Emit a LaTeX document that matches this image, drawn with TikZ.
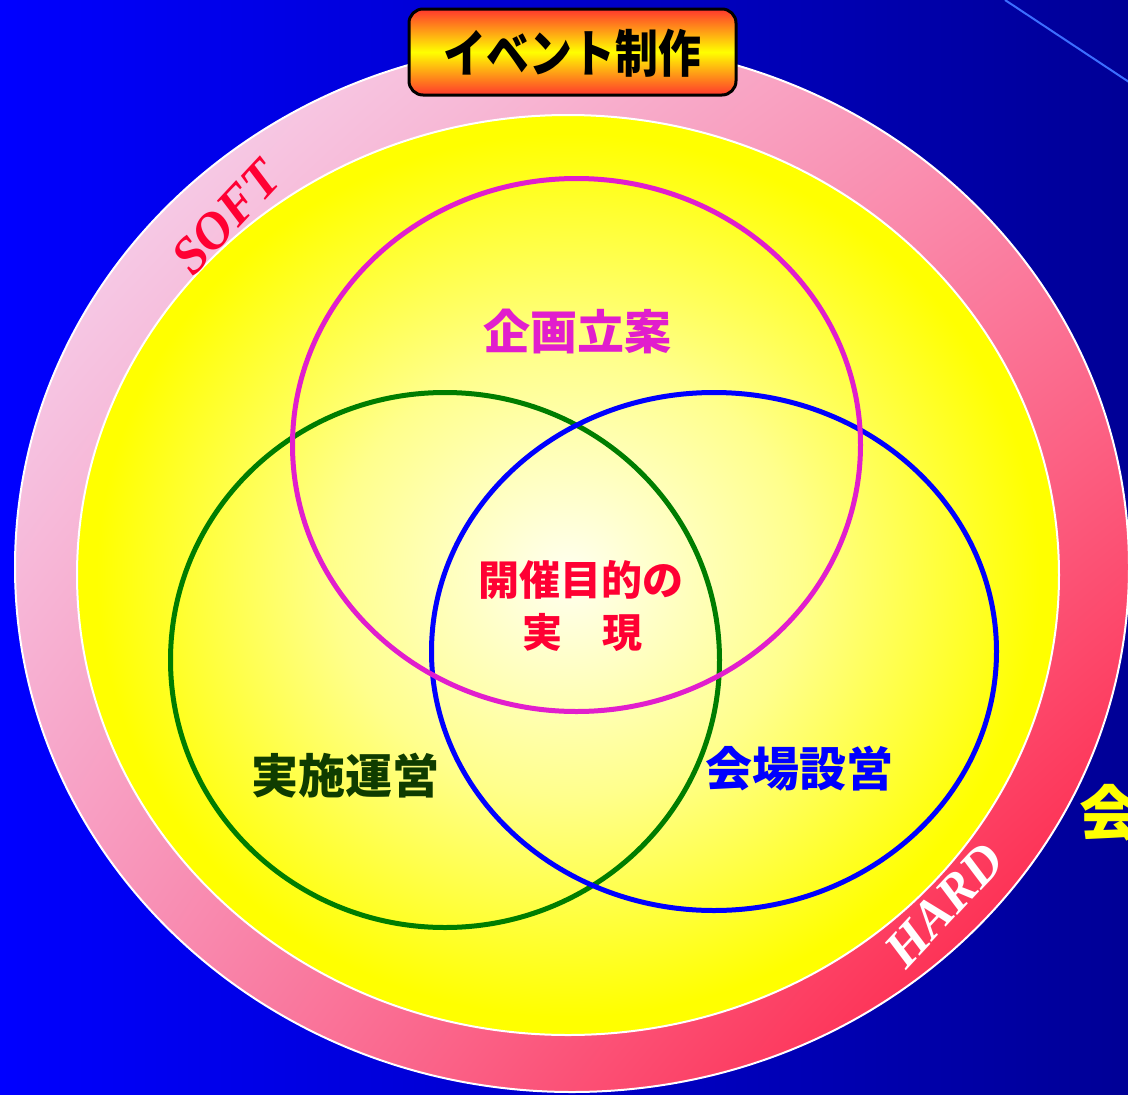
\documentclass[tikz,border=0pt]{standalone}
\usepackage{fontspec}
\usetikzlibrary{shadings}
\setmainfont{Liberation Serif}
\newfontfamily\jp{Noto Sans CJK JP}
\newfontfamily\srf{Liberation Serif}
\definecolor{bgL}{RGB}{0,0,255}
\definecolor{bgR}{RGB}{0,0,150}
\definecolor{streak}{RGB}{60,110,255}
\definecolor{ringUL}{RGB}{245,225,250}
\definecolor{ringUR}{RGB}{250,140,175}
\definecolor{ringLL}{RGB}{248,145,185}
\definecolor{ringLR}{RGB}{255,15,50}
\definecolor{ycenter}{RGB}{255,255,240}
\definecolor{ymid}{RGB}{255,255,140}
\definecolor{yedge}{RGB}{255,255,0}
\definecolor{titred}{RGB}{255,55,45}
\definecolor{magc}{RGB}{225,30,205}
\definecolor{grnc}{RGB}{0,125,0}
\definecolor{bluc}{RGB}{0,0,255}
\definecolor{redtxt}{RGB}{255,0,51}
\definecolor{dkgreen}{RGB}{15,60,0}
\pgfdeclareradialshading{yglow}{\pgfpoint{0bp}{0bp}}{color(0bp)=(ycenter); color(12bp)=(ymid); color(24bp)=(yedge); color(50bp)=(yedge)}
\tikzset{
  venn/.style={line width=5pt},
  lbl/.style={inner sep=0pt, font=\jp\bfseries},
  ringtxt/.style={inner sep=0pt, font=\srf\bfseries\itshape\fontsize{52}{52}\selectfont, rotate=47},
}
\begin{document}
\begin{tikzpicture}[x=1pt,y=-1pt]
\useasboundingbox (0,0) rectangle (1128,1095);
\clip (0,0) rectangle (1128,1095);
% background
\shade[left color=bgL, right color=bgR] (0,0) rectangle (1128,1095);
\coordinate (s1) at (1005,0);
\coordinate (s2) at (1132,84);
\draw[streak, line width=2pt] (s1) -- (s2);
% outer ring
\shade[upper left=ringUL, upper right=ringUR, lower left=ringLL, lower right=ringLR]
  (572,567) ellipse [x radius=557, y radius=525];
\draw[white, line width=2pt] (572,567) ellipse [x radius=557, y radius=525];
% inner yellow
\shade[shading=yglow] (568,575) ellipse [x radius=491, y radius=460];
\draw[white, line width=2pt] (568,575) ellipse [x radius=491, y radius=460];
% venn circles
\draw[venn, grnc] (445,660) ellipse [x radius=274.5, y radius=267.5];
\draw[venn, bluc] (714,651.5) ellipse [x radius=282.5, y radius=259];
\draw[venn, magc] (576.5,445) ellipse [x radius=284, y radius=266.5];
% labels
\node[lbl, text=magc] (kikaku) at (577,331) {\fontsize{47}{47}\selectfont 企画立案};
\node[lbl, text=redtxt] (kaisai) at (581,580) {\fontsize{41}{41}\selectfont 開催目的の};
\node[lbl, text=redtxt] (jitsugen) at (582,632) {\fontsize{40}{40}\selectfont 実　現};
\node[lbl, text=dkgreen] (unei) at (345,776) {\fontsize{47}{47}\selectfont 実施運営};
\node[lbl, text=bluc] (kaijo) at (799,769) {\fontsize{47}{47}\selectfont 会場設営};
\node[lbl, text=yedge, anchor=west] (kai) at (1079,813) {\fontsize{60}{60}\selectfont 会};
% ring labels
\node[ringtxt, text=redtxt] (soft) at (226,217) {SOFT};
\node[ringtxt, text=white] (hard) at (944,905) {HARD};
% title
\node[draw=black, line width=3pt, rounded corners=14pt, minimum width=327pt, minimum height=86pt,
      top color=titred, bottom color=titred, middle color=yedge, inner sep=0pt] (title) at (572.5,52) {};
\node[lbl, text=black] (titletxt) at (572.5,53) {\fontsize{51}{51}\selectfont\scalebox{0.84}[1]{イベント制作}};
\end{tikzpicture}
\end{document}
